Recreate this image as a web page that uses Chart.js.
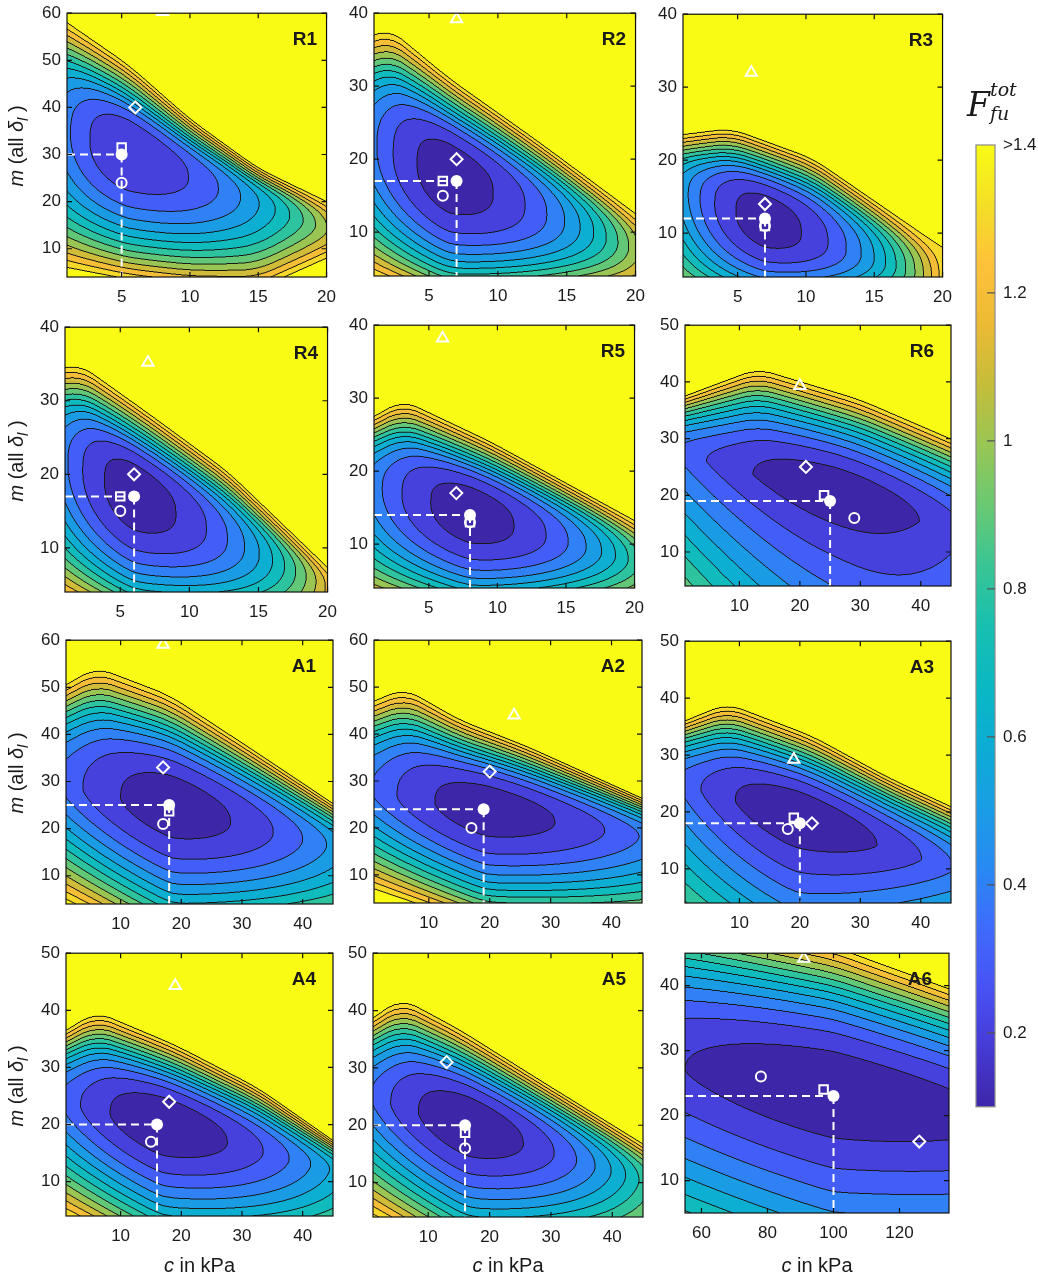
<!DOCTYPE html>
<html>
<head>
<meta charset="utf-8">
<title>F_fu tot contour maps</title>
<script src="https://cdn.jsdelivr.net/npm/chart.js@4.4.0/dist/chart.umd.min.js"></script>
<style>
  body { margin: 0; background: #fff; }
  #page { position: relative; width: 1038px; height: 1278px; overflow: hidden;
          font-family: "Liberation Sans", Arial, sans-serif; color: #1a1a1a; }
  #page canvas { position: absolute; }
  .tag { position: absolute; font-weight: bold; font-size: 19px; line-height: 19px; text-align: right; width: 40px; }
  .ytitle { position: absolute; font-size: 20px; white-space: nowrap; line-height: 22px;
            transform: translate(-50%, -50%) rotate(-90deg); }
  .xtitle { position: absolute; font-size: 20px; white-space: nowrap; line-height: 22px; transform: translateX(-50%); }
  .ytitle sub { font-size: 15px; }
  .cbt { position: absolute; font-family: "DejaVu Serif", "Liberation Serif", serif; font-style: italic; line-height: 1; }
</style>
</head>
<body>
<div id="page"></div>
<script>
// ---- panels and axes ----
const panelNames = ['R1', 'R2', 'R3', 'R4', 'R5', 'R6', 'A1', 'A2', 'A3', 'A4', 'A5', 'A6'];
const cRange = [[1, 20], [1, 20], [1, 20], [1, 20], [1, 20], [1, 45],
                [1, 45], [1, 45], [1, 45], [1, 45], [1, 45], [55, 135]];
const mRange = [[4, 60], [4, 40], [4, 40], [4, 40], [4, 40], [4, 50],
                [4, 60], [4, 60], [4, 50], [4, 50], [4, 50], [5, 45]];
const cTicksSmall = [5, 10, 15, 20];
const cTicksLarge = [10, 20, 30, 40];
const cTicksA6 = [60, 80, 100, 120];
const mTicks40 = [10, 20, 30, 40];
const mTicks50 = [10, 20, 30, 40, 50];
const mTicks60 = [10, 20, 30, 40, 50, 60];
const cTicks = [cTicksSmall, cTicksSmall, cTicksSmall, cTicksSmall, cTicksSmall, cTicksLarge,
                cTicksLarge, cTicksLarge, cTicksLarge, cTicksLarge, cTicksLarge, cTicksA6];
const mTicks = [mTicks60, mTicks40, mTicks40, mTicks40, mTicks40, mTicks50,
                mTicks60, mTicks60, mTicks50, mTicks50, mTicks50, mTicks40];

// ---- markers [c, m] ----
const bestFit   = [[5, 30], [7, 17], [7, 12], [6, 17], [8, 14], [25, 19],
                   [18, 25], [19, 24], [20, 18], [16, 20], [16, 20], [100, 23]];
const squareMk  = [[5, 31.5], [6, 17], [7, 11], [5, 17], [8, 13], [24, 20],
                   [18, 23.7], null, [19, 19], null, [16, 18.7], [97, 24]];
const circleMk  = [[5, 24], [6, 15], [7, 11], [5, 15], [8, 13], [29, 16],
                   [17, 21], [17, 20], [18, 17], [15, 17], [16, 16], [78, 26]];
const diamondMk = [[6, 40], [7, 20], [7, 14], [6, 20], [7, 17], [21, 25],
                   [17, 33], [20, 32], [22, 18], [18, 24], [13, 31], [126, 16]];
const triangleMk = [[8, 60.3], [7, 39.2], [6, 32], [7, 35.2], [6, 38.2], [20, 39.3],
                    [17, 59.1], [24, 44], [19, 29.2], [19, 44.3], null, [91, 44.2]];

// ---- field shape ----
// valley minimum [c, m, F]
const fieldMin = [[5.5, 29.5, 0.22], [6.5, 17.5, 0.15], [7, 11.5, 0.15], [6, 17, 0.15],
                  [8, 14, 0.15], [26, 19.5, 0.13], [18.5, 24, 0.15], [19.5, 23.5, 0.15],
                  [19.5, 18.5, 0.13], [17, 19.5, 0.13], [16.5, 19.5, 0.13], [100, 23, 0.13]];
const valleySlope = [-1.07, -0.74, -0.64, -0.89, -0.54, -0.3, -0.3, -0.22, -0.33, -0.27, -0.33, -0.09];
// rise of the valley floor to the left / right [Lleft, Lright]
const valleyLength = [[10, 15.5], [10.6, 14.1], [9.5, 11.9], [9.6, 13.5], [12.8, 14.3], [52, 52],
                      [38, 43], [38, 50], [38.5, 50], [33, 40], [30.6, 34], [170, 200]];
// steepness of the core above the valley at [left edge, minimum, right edge]
const upperPower = [[2.8, 3.6, 2.6], [2.8, 3.4, 2.6], [2.8, 3.3, 2.6], [2.8, 3.6, 2.6],
                    [2.8, 3.4, 2.6], [2.2, 2.4, 2.2], [2.5, 2.9, 2.5], [2.6, 3.1, 2.5],
                    [2.4, 2.8, 2.4], [2.5, 3.0, 2.5], [2.5, 2.9, 2.5], [2.3, 2.5, 2.3]];
// steepness of the core below the valley at [left edge, minimum, right edge]
const lowerPower = [[2.0, 2.1, 1.6], [2.0, 2.6, 1.8], [1.8, 2.4, 1.6], [2.0, 2.4, 1.6],
                    [2.0, 2.4, 1.6], [1.1, 1.1, 1.1], [1.5, 2.0, 1.6], [1.5, 2.1, 1.6],
                    [1.2, 1.4, 1.3], [1.5, 1.85, 1.5], [1.5, 1.85, 1.5], [1.5, 1.64, 1.5]];
// outer flank slope (relative) above / below the valley
const upperSkirt = 1.8;
const lowerSkirt = 2.0;
// where F reaches 1.4 above the valley [c, m]
const upperEdge = [
  [[1, 58], [5.5, 49], [10, 37.5], [15, 27], [20, 20]],
  [[1, 37], [2, 38], [6.5, 31], [13, 22.3], [20, 12.5]],
  [[1, 23.5], [4.5, 24.3], [10.5, 20.2], [19.5, 8.6], [20, 8]],
  [[1, 34.5], [2, 35], [7, 28.3], [12.8, 20.3], [20, 7.3]],
  [[1, 27.5], [3.1, 29.7], [9.5, 24], [20, 13.2]],
  [[1, 37.5], [13, 42.3], [30, 36.8], [45, 29.9]],
  [[1, 50.5], [6, 54.2], [18, 48.3], [32, 36.5], [45, 25.3]],
  [[1, 47], [6, 49.7], [15, 43], [26, 37.4], [45, 26.3]],
  [[1, 36], [8, 39], [22, 33.3], [35, 25.8], [45, 20.9]],
  [[1, 36.5], [6, 39.7], [19, 33.9], [32.6, 26.4], [45, 17.2]],
  [[1, 38.7], [5.6, 42.1], [15, 36.7], [28.7, 27.5], [45, 16.7]],
  [[55, 51], [100, 46], [135, 39.5]]
];
// where F reaches 1.4 below the valley [c, m]
const lowerEdge = [
  [[1, 6], [5.5, 3.5], [10, 2], [15, 1.5], [20, 8]],
  [[1, 4], [6.5, 0], [20, 2]],
  [[1, -1], [7, -1.8], [20, -1]],
  [[1, 3], [6, -1], [20, -2]],
  [[1, 1.7], [8, -1], [20, 0.5]],
  [[1, -12], [26, -45], [45, -80]],
  [[1, 5], [18.5, -6], [45, -4.7]],
  [[1, 7], [19.5, -1.2], [45, -2.6]],
  [[1, -10.4], [19.5, -20], [45, -12]],
  [[1, 4], [17, -4.3], [45, -5.6]],
  [[1, 4.5], [16.5, -4.3], [45, -4]],
  [[55, -7.4], [100, -15], [135, -16]]
];

const levelStep = 0.1;
const colorMin = 0.1;
const colorMax = 1.4;
const colorbarTicks = [0.2, 0.4, 0.6, 0.8, 1.0, 1.2, 1.4];

// parula-like colour stops
const parula = [
  [0.000, 62, 38, 168], [0.063, 70, 59, 214], [0.125, 72, 82, 244], [0.188, 62, 108, 252],
  [0.250, 40, 138, 242], [0.313, 25, 158, 228], [0.375, 12, 172, 212], [0.438, 10, 184, 195],
  [0.500, 24, 191, 176], [0.563, 58, 197, 148], [0.625, 105, 201, 115], [0.688, 152, 198, 84],
  [0.750, 196, 189, 58], [0.813, 236, 186, 52], [0.875, 254, 193, 58], [0.938, 244, 223, 38],
  [1.000, 249, 251, 21]
];

// plot boxes on the page [left, top, right, bottom]
const plotBox = [
  [67, 9, 334, 277], [374, 9, 643, 276], [683, 10, 950, 277],
  [65, 323, 335, 592], [374, 321, 642, 588], [685, 321, 951, 586],
  [66, 636, 333, 904], [374, 636, 642, 903], [685, 637, 951, 903],
  [66, 949, 333, 1216], [373, 949, 643, 1217], [685, 949, 949, 1213]
];

const FONT = '"Liberation Sans", Arial, sans-serif';
const YW = 50, XH = 36, TP = 12, RP = 12;
const page = document.getElementById('page');

function parulaAt(t) {
  t = Math.min(1, Math.max(0, t));
  for (let i = 1; i < parula.length; i++) {
    if (t <= parula[i][0]) {
      const a = parula[i - 1], b = parula[i];
      const f = (t - a[0]) / (b[0] - a[0]);
      return [0, 1, 2].map(k => Math.round(a[k + 1] + (b[k + 1] - a[k + 1]) * f));
    }
  }
  return parula[parula.length - 1].slice(1);
}

const nBands = Math.round((colorMax - colorMin) / levelStep);   // 13
const bandColors = [];
for (let b = 0; b <= nBands; b++) bandColors.push(parulaAt(b / nBands));

function bandOf(F) {
  if (F >= colorMax) return nBands;
  return Math.max(0, Math.floor((F - colorMin) / levelStep + 1e-6));
}

function lin(knots, c) {
  let i = 1;
  while (i < knots.length - 1 && c > knots[i][0]) i++;
  const a = knots[i - 1], b = knots[i];
  return a[1] + (b[1] - a[1]) * (c - a[0]) / (b[0] - a[0]);
}

function edgeAt(knots, c, span) {
  let s = 0;
  for (let k = -2; k <= 2; k++) s += lin(knots, c + k * span / 2);
  return s / 5;
}

function powerAt(p, idx, c) {
  const c0 = fieldMin[idx][0];
  if (c <= c0) return lin([[cRange[idx][0], p[0]], [c0, p[1]]], Math.max(c, cRange[idx][0]));
  return lin([[c0, p[1]], [cRange[idx][1], p[2]]], Math.min(c, cRange[idx][1]));
}

// power-law core that turns into a straight flank, reaching 1 at z = 1
function profile(p, s) {
  if (p <= s) return z => Math.pow(z, p);
  const z1 = (1 - 1 / s) / (1 - 1 / p);
  const A = s / (p * Math.pow(z1, p - 1));
  const g1 = s * z1 / p;
  return z => (z <= z1 ? A * Math.pow(z, p) : g1 + s * (z - z1));
}

function renderField(chart, idx) {
  const a = chart.chartArea;
  const S = 2;
  const W = Math.round((a.right - a.left) * S);
  const H = Math.round((a.bottom - a.top) * S);
  const xs = chart.scales.x, ys = chart.scales.y;
  const [c0, m0, F0] = fieldMin[idx];
  const k = valleySlope[idx];
  const [Ll, Lr] = valleyLength[idx];
  const span = 0.05 * (cRange[idx][1] - cRange[idx][0]);

  const mVals = new Float64Array(H);
  for (let j = 0; j < H; j++) mVals[j] = ys.getValueForPixel(a.top + (j + 0.5) / S);

  const band = new Uint8Array(W * H);
  for (let i = 0; i < W; i++) {
    const c = xs.getValueForPixel(a.left + (i + 0.5) / S);
    const u = c - c0;
    const Fv = F0 + Math.pow(u / (u < 0 ? Ll : Lr), 2);
    const mv = m0 + k * u;
    const Ru = Math.max(edgeAt(upperEdge[idx], c, span) - mv, 0.5);
    const Rl = Math.max(mv - edgeAt(lowerEdge[idx], c, span), 0.5);
    const gu = profile(powerAt(upperPower[idx], idx, c), upperSkirt);
    const gl = profile(powerAt(lowerPower[idx], idx, c), lowerSkirt);
    for (let j = 0; j < H; j++) {
      const d = mVals[j] - mv;
      let F;
      if (Fv >= colorMax) F = Fv;
      else if (d > 0) F = Fv + (colorMax - Fv) * gu(d / Ru);
      else F = Fv + (colorMax - Fv) * gl(-d / Rl);
      band[j * W + i] = bandOf(F);
    }
  }

  const off = document.createElement('canvas');
  off.width = W; off.height = H;
  const octx = off.getContext('2d');
  const img = octx.createImageData(W, H);
  for (let j = 0; j < H; j++) {
    for (let i = 0; i < W; i++) {
      const p = j * W + i;
      const b = band[p];
      const edge = (i > 0 && band[p - 1] !== b) || (i < W - 1 && band[p + 1] !== b) ||
                   (j > 0 && band[p - W] !== b) || (j < H - 1 && band[p + W] !== b);
      const col = edge ? [25, 25, 25] : bandColors[b];
      img.data[p * 4] = col[0];
      img.data[p * 4 + 1] = col[1];
      img.data[p * 4 + 2] = col[2];
      img.data[p * 4 + 3] = 255;
    }
  }
  octx.putImageData(img, 0, 0);
  return off;
}

function drawFrame(chart, xt, yt) {
  const a = chart.chartArea, ctx = chart.ctx;
  const xs = chart.scales.x, ys = chart.scales.y;
  ctx.save();
  ctx.strokeStyle = '#111';
  ctx.lineWidth = 1.2;
  ctx.strokeRect(a.left, a.top, a.right - a.left, a.bottom - a.top);
  ctx.beginPath();
  xt.forEach(v => {
    const x = xs.getPixelForValue(v);
    ctx.moveTo(x, a.bottom); ctx.lineTo(x, a.bottom - 5);
    ctx.moveTo(x, a.top); ctx.lineTo(x, a.top + 5);
  });
  yt.forEach(v => {
    const y = ys.getPixelForValue(v);
    ctx.moveTo(a.left, y); ctx.lineTo(a.left + 5, y);
    ctx.moveTo(a.right, y); ctx.lineTo(a.right - 5, y);
  });
  ctx.stroke();
  ctx.restore();
}

function fieldPlugin(idx) {
  return {
    id: 'field' + idx,
    beforeDatasetsDraw(chart) {
      const a = chart.chartArea;
      if (!chart.$field) chart.$field = renderField(chart, idx);
      chart.ctx.save();
      chart.ctx.imageSmoothingEnabled = true;
      chart.ctx.drawImage(chart.$field, a.left, a.top, a.right - a.left, a.bottom - a.top);
      chart.ctx.restore();
    },
    afterDatasetsDraw(chart) {
      drawFrame(chart, cTicks[idx], mTicks[idx]);
    }
  };
}

function markerSet(pt, style, radius, filled) {
  return {
    data: pt ? [{ x: pt[0], y: pt[1] }] : [],
    pointStyle: style,
    pointRadius: radius,
    pointBorderColor: '#fff',
    pointBackgroundColor: filled ? '#fff' : 'rgba(0,0,0,0)',
    pointBorderWidth: filled ? 0 : 2,
    clip: 0
  };
}

function dashSet(points) {
  return {
    data: points.map(p => ({ x: p[0], y: p[1] })),
    showLine: true,
    borderColor: '#fff',
    borderWidth: 2,
    borderDash: [8, 5],
    pointRadius: 0,
    clip: 0
  };
}

function buildPanel(idx) {
  const [L, T, R, B] = plotBox[idx];
  const cv = document.createElement('canvas');
  const w = R - L + YW + RP, h = B - T + TP + XH;
  cv.width = w; cv.height = h;
  cv.style.left = (L - YW) + 'px';
  cv.style.top = (T - TP) + 'px';
  cv.style.width = w + 'px';
  cv.style.height = h + 'px';
  page.appendChild(cv);

  const best = bestFit[idx];
  const tickFont = { family: FONT, size: 17 };
  new Chart(cv, {
    type: 'scatter',
    data: {
      datasets: [
        markerSet(best, 'circle', 6, true),
        markerSet(squareMk[idx], 'rect', 6, false),
        markerSet(circleMk[idx], 'circle', 5, false),
        markerSet(diamondMk[idx], 'rectRot', 6, false),
        markerSet(triangleMk[idx], 'triangle', 6.5, false),
        dashSet([[cRange[idx][0], best[1]], [best[0], best[1]]]),
        dashSet([[best[0], best[1]], [best[0], mRange[idx][0]]])
      ]
    },
    options: {
      responsive: false,
      animation: false,
      events: [],
      devicePixelRatio: 1,
      layout: { padding: { top: TP, right: RP, left: 0, bottom: 0 } },
      plugins: { legend: { display: false }, tooltip: { enabled: false } },
      scales: {
        x: {
          type: 'linear', min: cRange[idx][0], max: cRange[idx][1],
          grid: { display: false, drawTicks: false }, border: { display: false },
          afterBuildTicks: s => { s.ticks = cTicks[idx].map(v => ({ value: v })); },
          afterFit: s => { s.height = XH; },
          ticks: { font: tickFont, color: '#1a1a1a', padding: 10, maxRotation: 0, autoSkip: false }
        },
        y: {
          type: 'linear', min: mRange[idx][0], max: mRange[idx][1],
          grid: { display: false, drawTicks: false }, border: { display: false },
          afterBuildTicks: s => { s.ticks = mTicks[idx].map(v => ({ value: v })); },
          afterFit: s => { s.width = YW; },
          ticks: { font: tickFont, color: '#1a1a1a', padding: 6, autoSkip: false }
        }
      }
    },
    plugins: [fieldPlugin(idx)]
  });

  const tag = document.createElement('div');
  tag.className = 'tag';
  tag.textContent = panelNames[idx];
  tag.style.left = (R - 17 - 40) + 'px';
  tag.style.top = (T + 20) + 'px';
  page.appendChild(tag);
}

panelNames.forEach((n, i) => buildPanel(i));

// axis titles
[0, 3, 6, 9].forEach(i => {
  const t = document.createElement('div');
  t.className = 'ytitle';
  t.innerHTML = '<i>m</i> (all <i>&delta;</i><sub><i>l</i></sub> )';
  t.style.left = '19px';
  t.style.top = ((plotBox[i][1] + plotBox[i][3]) / 2 + 3) + 'px';
  page.appendChild(t);
});
[9, 10, 11].forEach(i => {
  const t = document.createElement('div');
  t.className = 'xtitle';
  t.innerHTML = '<i>c</i> in kPa';
  t.style.left = ((plotBox[i][0] + plotBox[i][2]) / 2) + 'px';
  t.style.top = '1254px';
  page.appendChild(t);
});

// colour bar
const cbBox = [976, 145, 995, 1108];
(function buildColorbar() {
  const [L, T, R, B] = cbBox;
  const padL = 36, axisW = 55, padT = 20, padB = 17;
  const cv = document.createElement('canvas');
  const w = R - L + padL + axisW, h = B - T + padT + padB;
  cv.width = w; cv.height = h;
  cv.style.left = (L - padL) + 'px';
  cv.style.top = (T - padT) + 'px';
  cv.style.width = w + 'px';
  cv.style.height = h + 'px';
  page.appendChild(cv);

  const framePlugin = {
    id: 'cbframe',
    afterDatasetsDraw(chart) {
      const a = chart.chartArea, ctx = chart.ctx, ys = chart.scales.y;
      ctx.save();
      ctx.strokeStyle = '#8a8a8a';
      ctx.lineWidth = 1.2;
      ctx.strokeRect(a.left, a.top, a.right - a.left, a.bottom - a.top);
      ctx.strokeStyle = '#555';
      ctx.beginPath();
      colorbarTicks.slice(0, -1).forEach(v => {
        const y = ys.getPixelForValue(v);
        ctx.moveTo(a.right, y); ctx.lineTo(a.right - 8, y);
      });
      ctx.stroke();
      ctx.restore();
    }
  };

  new Chart(cv, {
    type: 'bar',
    data: {
      labels: [''],
      datasets: [{
        data: [[colorMin, colorMax]],
        backgroundColor: ctx => {
          const chart = ctx.chart;
          if (!chart.chartArea) return '#888';
          const ys = chart.scales.y;
          const g = chart.ctx.createLinearGradient(0, ys.getPixelForValue(colorMin), 0, ys.getPixelForValue(colorMax));
          parula.forEach(s => g.addColorStop(s[0], 'rgb(' + s[1] + ',' + s[2] + ',' + s[3] + ')'));
          return g;
        },
        borderWidth: 0,
        barPercentage: 1,
        categoryPercentage: 1
      }]
    },
    options: {
      responsive: false,
      animation: false,
      events: [],
      devicePixelRatio: 1,
      layout: { padding: { top: padT, bottom: padB, left: padL, right: 0 } },
      plugins: { legend: { display: false }, tooltip: { enabled: false } },
      scales: {
        x: { display: false },
        y: {
          position: 'right', min: colorMin, max: colorMax,
          grid: { display: false, drawTicks: false }, border: { display: false },
          afterBuildTicks: s => { s.ticks = colorbarTicks.map(v => ({ value: v })); },
          afterFit: s => { s.width = axisW; },
          ticks: {
            font: { family: FONT, size: 17 }, color: '#1a1a1a', padding: 8, autoSkip: false,
            callback: v => (v >= colorMax - 1e-9 ? '>1.4' : String(+v.toFixed(1)))
          }
        }
      }
    },
    plugins: [framePlugin]
  });
})();

// colour bar title F_fu^tot
[['F', 967, 88, 33], ['tot', 990, 80, 19], ['fu', 990, 104, 19]].forEach(([s, x, y, fs]) => {
  const t = document.createElement('div');
  t.className = 'cbt';
  t.textContent = s;
  t.style.left = x + 'px';
  t.style.top = y + 'px';
  t.style.fontSize = fs + 'px';
  page.appendChild(t);
});
</script>
</body>
</html>
